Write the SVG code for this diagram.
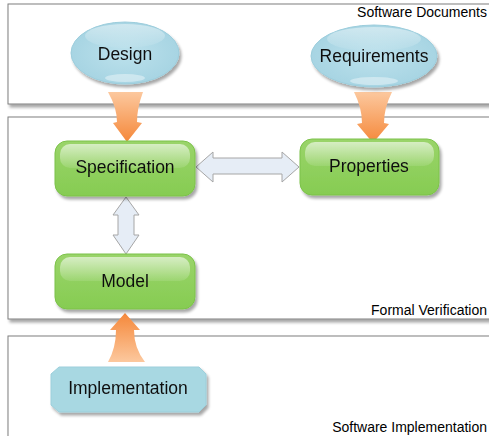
<svg xmlns="http://www.w3.org/2000/svg" width="489" height="436" viewBox="0 0 489 436">
<defs>
<filter id="sh" x="-20%" y="-20%" width="140%" height="150%">
<feGaussianBlur in="SourceAlpha" stdDeviation="1.5"/>
<feOffset dx="2" dy="3" result="o"/>
<feComponentTransfer><feFuncA type="linear" slope="0.35"/></feComponentTransfer>
<feMerge><feMergeNode/><feMergeNode in="SourceGraphic"/></feMerge>
</filter>
<linearGradient id="gGreen" x1="0" y1="0" x2="0" y2="1">
<stop offset="0" stop-color="#9ad46a"/>
<stop offset="1" stop-color="#86cc52"/>
</linearGradient>
<linearGradient id="gHi" x1="0" y1="0" x2="0" y2="1">
<stop offset="0" stop-color="#ffffff" stop-opacity="0.6"/>
<stop offset="1" stop-color="#ffffff" stop-opacity="0.1"/>
</linearGradient>
<linearGradient id="gHiE" x1="0" y1="0" x2="0" y2="1">
<stop offset="0" stop-color="#ffffff" stop-opacity="0.45"/>
<stop offset="1" stop-color="#ffffff" stop-opacity="0.05"/>
</linearGradient>
<radialGradient id="gBlue" cx="0.5" cy="0.5" r="0.6">
<stop offset="0" stop-color="#bce1ec"/>
<stop offset="1" stop-color="#a3d2e1"/>
</radialGradient>
<linearGradient id="gOrD" x1="0" y1="0" x2="0" y2="1">
<stop offset="0" stop-color="#fcc89e"/>
<stop offset="1" stop-color="#f5883a"/>
</linearGradient>
<linearGradient id="gOrU" x1="0" y1="1" x2="0" y2="0">
<stop offset="0" stop-color="#fcc89e"/>
<stop offset="1" stop-color="#f5883a"/>
</linearGradient>
<style>
.panel{fill:#ffffff;stroke:#7f7f7f;stroke-width:1}
.plabel{font-family:"Liberation Sans",Arial,sans-serif;font-size:14px;fill:#000;text-anchor:end}
.nlabel{font-family:"Liberation Sans",Arial,sans-serif;font-size:17.5px;fill:#111;text-anchor:middle}
.green{fill:url(#gGreen);stroke:#7cc24a;stroke-width:1}
.hi{fill:url(#gHi)}
.hie{fill:url(#gHiE)}
.dbl{fill:#e6edf6;stroke:#a6a6a6;stroke-width:1}
</style>
</defs>

<g id="panels">
<g id="panel-docs">
<rect x="8" y="4" width="500" height="100" class="panel" filter="url(#sh)"/>
<text x="487" y="17" class="plabel">Software Documents</text>
</g>
<g id="panel-formal">
<rect x="8" y="117" width="500" height="202" class="panel" filter="url(#sh)"/>
<text x="487" y="315" class="plabel">Formal Verification</text>
</g>
<g id="panel-impl">
<rect x="8" y="336" width="500" height="120" class="panel" filter="url(#sh)"/>
<text x="487" y="432" class="plabel">Software Implementation</text>
</g>
</g>

<g id="connectors">
<path d="M108,92 L143,92 Q137,108 137,122 L142,123 L127,142 L113,123 L117,122 Q117,108 108,92 Z" fill="url(#gOrD)"/>
<path d="M354,92 L392,92 Q384,108 384,123 L389,124 L373,143 L357,124 L362,123 Q362,108 354,92 Z" fill="url(#gOrD)"/>
<path d="M108,362 L145,362 Q134,348 134,330 L140,330 L125,313 L110,330 L116,330 Q116,348 108,362 Z" fill="url(#gOrU)"/>
<path d="M196,167 L213,152 L213,158 L282,158 L282,152 L299,167 L282,182 L282,174 L213,174 L213,182 Z" class="dbl"/>
<path d="M126,197 L139,215 L134,215 L134,235 L139,235 L126,254 L113,235 L118,235 L118,215 L113,215 Z" class="dbl"/>
</g>

<g id="node-design" filter="url(#sh)">
<ellipse cx="125" cy="53" rx="54" ry="31" fill="url(#gBlue)" stroke="#9ccddc" stroke-width="1"/>
<ellipse cx="125" cy="36" rx="40" ry="12" class="hie"/>
<ellipse cx="125" cy="78" rx="20" ry="4" fill="#ffffff" opacity="0.4"/>
<text x="125" y="60" class="nlabel">Design</text>
</g>

<g id="node-requirements" filter="url(#sh)">
<ellipse cx="374" cy="56" rx="63" ry="31" fill="url(#gBlue)" stroke="#9ccddc" stroke-width="1"/>
<ellipse cx="374" cy="39" rx="47" ry="12" class="hie"/>
<ellipse cx="374" cy="81" rx="24" ry="4" fill="#ffffff" opacity="0.4"/>
<text x="374" y="62" class="nlabel">Requirements</text>
</g>

<g id="node-specification" filter="url(#sh)">
<rect x="55" y="141" width="140" height="55" rx="12" class="green"/>
<rect x="60" y="144" width="130" height="24" rx="10" class="hi"/>
<text x="125" y="173" class="nlabel">Specification</text>
</g>

<g id="node-properties" filter="url(#sh)">
<rect x="300" y="139" width="139" height="56" rx="12" class="green"/>
<rect x="305" y="142" width="129" height="24" rx="10" class="hi"/>
<text x="369" y="172" class="nlabel">Properties</text>
</g>

<g id="node-model" filter="url(#sh)">
<rect x="55" y="254" width="140" height="55" rx="12" class="green"/>
<rect x="60" y="257" width="130" height="24" rx="10" class="hi"/>
<text x="125" y="287" class="nlabel">Model</text>
</g>

<g id="node-implementation" filter="url(#sh)">
<path d="M59,367 L199,367 L206,374 L206,405 L199,412 L59,412 L51,405 L51,374 Z" fill="#a8d8e2" stroke="#9ccfdb" stroke-width="1"/>
<text x="128" y="394" class="nlabel">Implementation</text>
</g>
</svg>
